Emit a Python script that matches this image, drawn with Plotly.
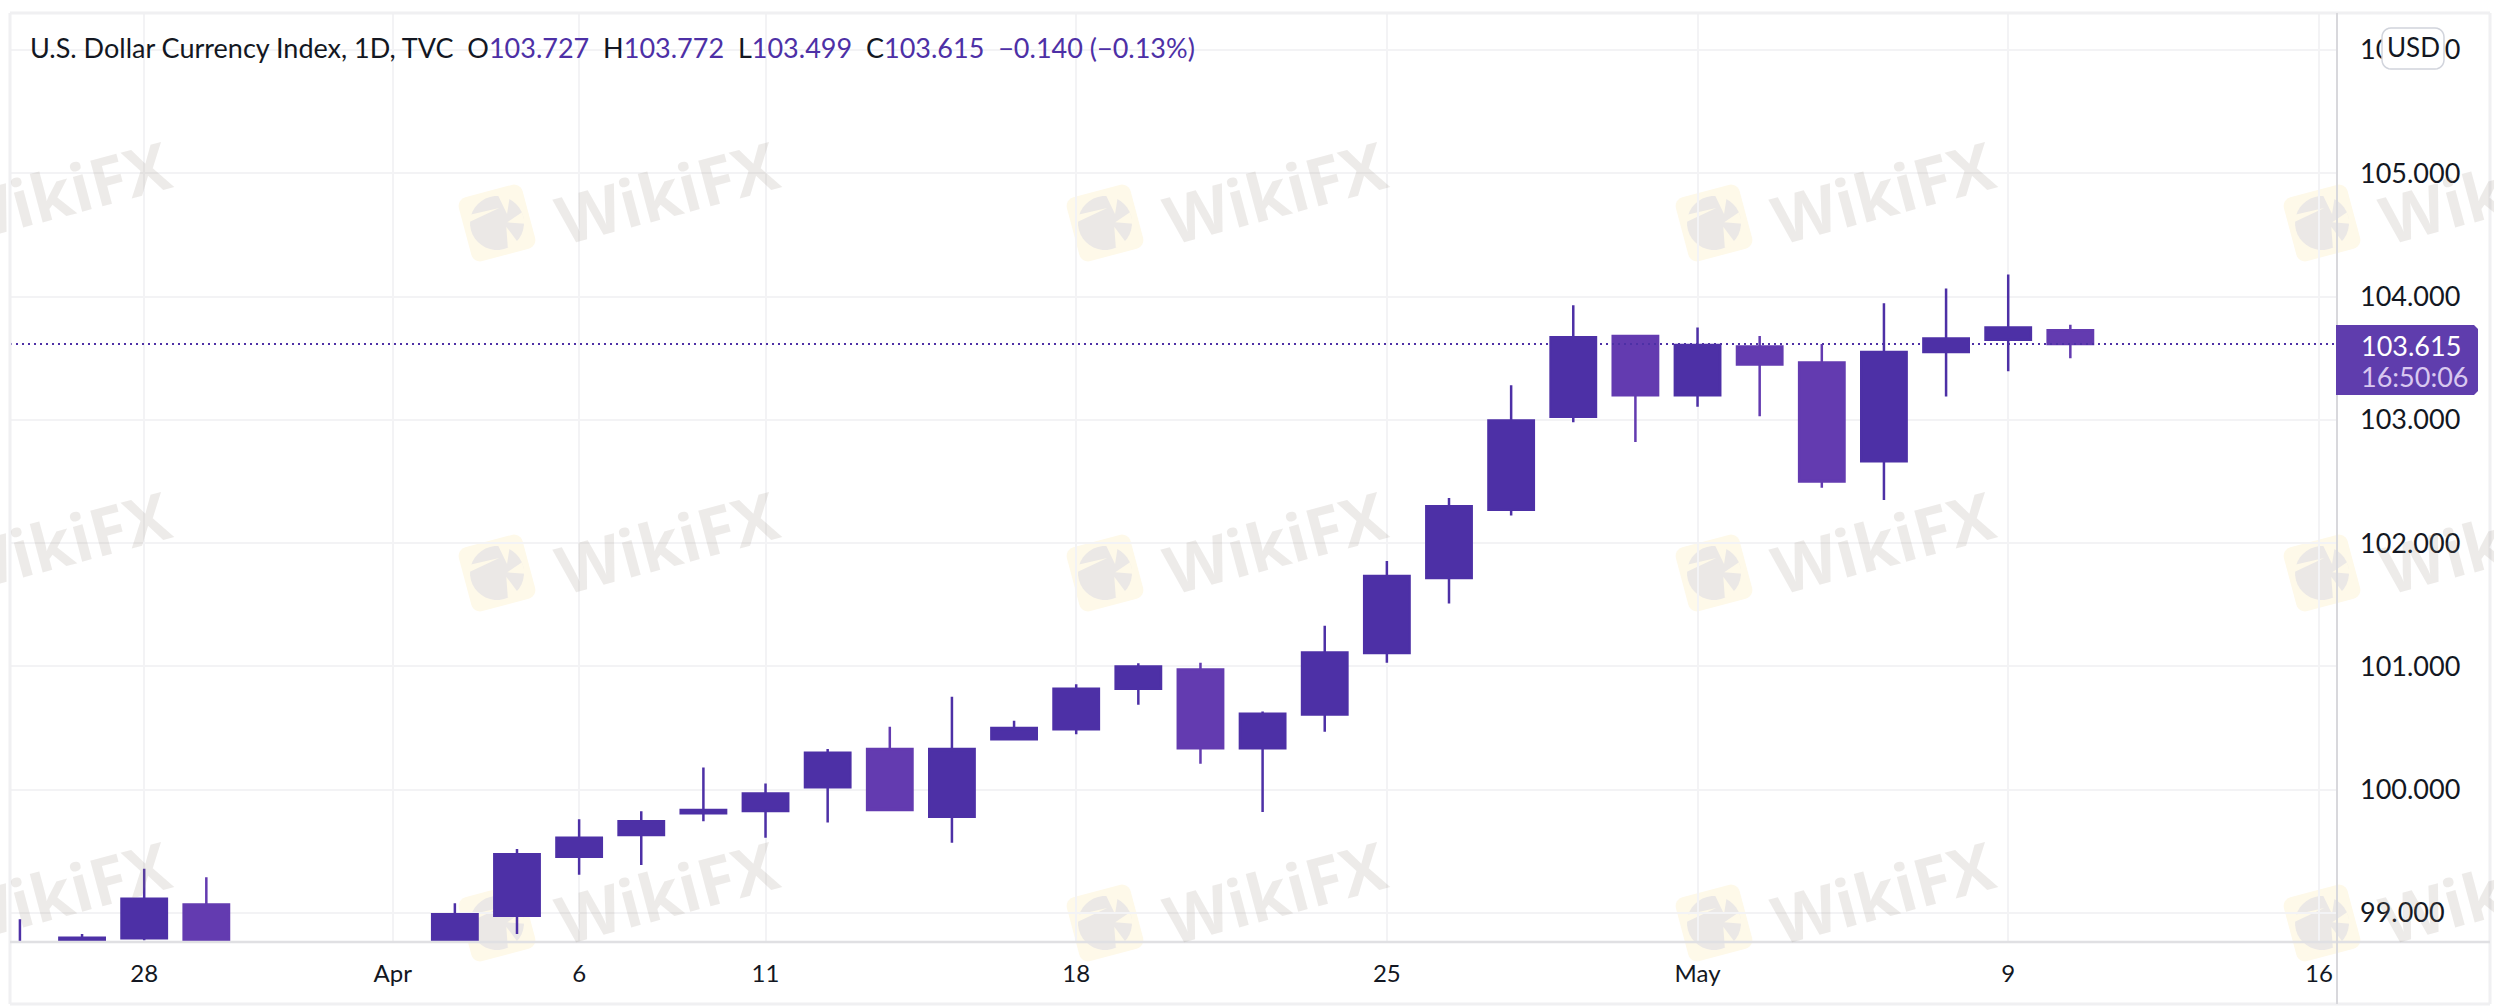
import math
import plotly.graph_objects as go

W, H = 2494, 1006
LEFT, RIGHT, TOP, BOTTOM = 10, 2337, 13, 942

dates = ['2022-03-24', '2022-03-25', '2022-03-28', '2022-03-29', '2022-04-04', '2022-04-05',
         '2022-04-06', '2022-04-07', '2022-04-08', '2022-04-11', '2022-04-12', '2022-04-13',
         '2022-04-14', '2022-04-15', '2022-04-18', '2022-04-19', '2022-04-20', '2022-04-21',
         '2022-04-22', '2022-04-25', '2022-04-26', '2022-04-27', '2022-04-28', '2022-04-29',
         '2022-05-02', '2022-05-03', '2022-05-04', '2022-05-05', '2022-05-06', '2022-05-09',
         '2022-05-10']
opens = [98.60, 98.70, 98.795, 99.07, 98.72, 98.978,
         99.457, 99.633, 99.81, 99.827, 100.02, 100.33,
         99.78, 100.41, 100.49, 100.82, 100.976, 100.336,
         100.61, 101.11, 101.717, 102.27, 103.025, 103.68,
         103.20, 103.596, 103.466, 102.665, 103.55, 103.65,
         103.727]
highs = [98.95, 98.83, 99.36, 99.29, 99.08, 99.52,
         99.76, 99.825, 100.18, 100.05, 100.33, 100.51,
         100.754, 100.56, 100.855, 101.025, 101.03, 100.635,
         101.33, 101.855, 102.366, 103.28, 103.93, 103.69,
         103.75, 103.68, 103.615, 103.945, 104.066, 104.18,
         103.772]
lows = [98.50, 98.60, 98.78, 98.60, 98.65, 98.83,
        99.31, 99.39, 99.744, 99.61, 99.735, 99.827,
        99.57, 100.40, 100.45, 100.69, 100.21, 99.82,
        100.47, 101.03, 101.51, 102.225, 102.98, 102.82,
        103.106, 103.03, 102.45, 102.35, 103.19, 103.395,
        103.499]
closes = [98.70, 98.80, 99.116, 98.68, 98.99, 99.476,
          99.61, 99.744, 99.835, 99.97, 100.30, 99.835,
          100.33, 100.50, 100.82, 101.00, 100.336, 100.616,
          101.114, 101.733, 102.30, 102.995, 103.67, 103.20,
          103.607, 103.45, 102.50, 103.55, 103.66, 103.75,
          103.615]

last_price = 103.615
price_ticks = [99, 100, 101, 102, 103, 104, 105, 106]
date_ticks = ['2022-03-28', '2022-04-01', '2022-04-06', '2022-04-11', '2022-04-18',
              '2022-04-25', '2022-05-02', '2022-05-09', '2022-05-16']
date_labels = ['28', 'Apr', '6', '11', '18', '25', 'May', '9', '16']

UP = '#4d30a6'
DOWN = '#633bb0'
GRID = '#f3f3f5'
TEXT = '#131722'
FONT = 'Lato'


# pixel helpers, only for chrome and watermark placement
def px(x):
  return (x - LEFT) / (RIGHT - LEFT)


def py(y):
  return (BOTTOM - y) / (BOTTOM - TOP)


def line(x0, y0, x1, y1, color, width):
  return dict(type='line', xref='paper', yref='paper', x0=px(x0), y0=py(y0), x1=px(x1), y1=py(y1),
              line=dict(color=color, width=width), layer='above')


def poly_path(points):
  return 'M ' + ' L '.join(f'{px(a):.5f},{py(b):.5f}' for a, b in points) + ' Z'


def rotate(a, b, cx, cy, angle):
  c, s = math.cos(math.radians(angle)), math.sin(math.radians(angle))
  return (cx + a * c - b * s, cy + a * s + b * c)


def rounded_box(cx, cy, width, height, radius, angle=0):
  hw, hh = width / 2 - radius, height / 2 - radius
  pts = []
  for hx, hy, start in [(hw, -hh, -90), (hw, hh, 0), (-hw, hh, 90), (-hw, -hh, 180)]:
    for k in range(7):
      t = math.radians(start + k * 15)
      pts.append(rotate(hx + radius * math.cos(t), hy + radius * math.sin(t), cx, cy, angle))
  return pts


def logo_shapes(cx, cy):
  out = []
  out.append(dict(type='path', xref='paper', yref='paper', layer='below',
                  path=poly_path(rounded_box(cx, cy, 66, 66, 9, -15)),
                  fillcolor='#fef9e9', line=dict(width=0)))
  circle = [rotate(27 * math.cos(math.radians(k * 10)), 27 * math.sin(math.radians(k * 10)), cx, cy, -15)
            for k in range(36)]
  out.append(dict(type='path', xref='paper', yref='paper', layer='below', path=poly_path(circle),
                  fillcolor='#ebe8e6', line=dict(width=0)))
  # slits that break the disc into the bird shape
  for a0, b0, a1, b1, a2, b2 in [(-27, -8, 6, -14, -24, -15), (8, -27, 12, -6, 20, -24),
                                 (27, -4, 10, 2, 27, 8), (16, 26, 8, 6, 4, 27)]:
    slit = [rotate(a, b, cx, cy, -15) for a, b in [(a0, b0), (a1, b1), (a2, b2)]]
    out.append(dict(type='path', xref='paper', yref='paper', layer='below', path=poly_path(slit),
                    fillcolor='#fef9e9', line=dict(width=0)))
  return out


data = [
  go.Candlestick(
    x=dates, open=opens, high=highs, low=lows, close=closes,
    increasing=dict(line=dict(color=UP, width=2.5), fillcolor=UP),
    decreasing=dict(line=dict(color=DOWN, width=2.5), fillcolor=DOWN),
    whiskerwidth=0, showlegend=False, hoverinfo='skip'),
]

shapes = [
  dict(type='line', xref='paper', yref='y', x0=0, x1=1, y0=last_price, y1=last_price,
       line=dict(color=UP, width=2, dash='2px,4px'), layer='above'),
  line(LEFT, TOP, 2490, TOP, '#f0f0f2', 3),
  line(LEFT, TOP, LEFT, 1004, '#f0f0f2', 3),
  line(2490, TOP, 2490, 1004, '#f0f0f2', 3),
  line(LEFT, 1004, 2490, 1004, '#f0f0f2', 3),
  line(LEFT, BOTTOM, 2490, BOTTOM, '#e0e0e3', 2.5),
  line(RIGHT, TOP, RIGHT, 1004, '#d8d8dc', 2),
  dict(type='path', xref='paper', yref='paper', layer='above', fillcolor='#5f3dad', line=dict(width=0),
       path=poly_path([(2336, 325), (2474, 325), (2478, 329), (2478, 391), (2474, 395), (2336, 395)])),
  dict(type='path', xref='paper', yref='paper', layer='above', fillcolor='white',
       path=poly_path(rounded_box(2413, 48.5, 62, 41, 9)), line=dict(color='#d1d4dc', width=1.5)),
]

for ly in (223, 573, 923):
  for lx in (497, 1105, 1714, 2322):
    shapes.extend(logo_shapes(lx, ly))

head_black = f'<span style="color:{TEXT}">%s</span>'
head_val = f'<span style="color:{UP}">%s</span>'
header = (head_black % 'U.S. Dollar Currency Index, 1D, TVC  O' + head_val % '103.727'
          + head_black % '  H' + head_val % '103.772'
          + head_black % '  L' + head_val % '103.499'
          + head_black % '  C' + head_val % '103.615'
          + head_val % '  −0.140 (−0.13%)')

annotations = []
for row in (191, 541, 891):
  for col in (59, 667, 1275, 1883, 2491):
    annotations.append(dict(xref='paper', yref='paper', x=px(col), y=py(row), text='WikiFX', showarrow=False,
                            xanchor='center', yanchor='middle', textangle=-15,
                            font=dict(family='Open Sans', size=66, weight=700,
                                      color='rgba(150,135,125,0.17)')))
annotations += [
  dict(xref='paper', yref='paper', x=px(28), y=py(48), xanchor='left', yanchor='middle', text=header,
       showarrow=False, font=dict(family=FONT, size=27, color=TEXT)),
  dict(xref='paper', yref='paper', x=px(2413), y=py(47), xanchor='center', yanchor='middle', text='USD',
       showarrow=False, font=dict(family=FONT, size=26, color=TEXT)),
  dict(xref='paper', yref='paper', x=px(2359), y=py(345), xanchor='left', yanchor='middle',
       text=f'{last_price:.3f}', showarrow=False, font=dict(family=FONT, size=27, color='white')),
  dict(xref='paper', yref='paper', x=px(2359), y=py(377), xanchor='left', yanchor='middle', text='16:50:06',
       showarrow=False, font=dict(family=FONT, size=27, color='#d9c8f0')),
]

layout = go.Layout(
  width=W, height=H,
  margin=dict(l=LEFT, r=W - RIGHT, t=TOP, b=H - BOTTOM, pad=0),
  paper_bgcolor='white', plot_bgcolor='white',
  boxgap=0.27, boxgroupgap=0,
  xaxis=dict(
    type='date', range=['2022-03-23 20:10', '2022-05-16 07:00'],
    rangebreaks=[dict(bounds=['sat', 'mon'])],
    rangeslider=dict(visible=False),
    tickmode='array', tickvals=date_ticks, ticktext=date_labels,
    tickfont=dict(family=FONT, size=24, color=TEXT), ticks='', ticklabelstandoff=15,
    showgrid=True, gridcolor=GRID, gridwidth=2, showline=False, zeroline=False),
  yaxis=dict(
    side='right', range=[98.765, 106.30],
    tickmode='array', tickvals=price_ticks, tickformat='.3f',
    tickfont=dict(family=FONT, size=27, color=TEXT), ticks='', ticklabelstandoff=22,
    showgrid=True, gridcolor=GRID, gridwidth=2, showline=False, zeroline=False),
  shapes=shapes,
  annotations=annotations,
)

fig = go.Figure(data=data, layout=layout)
fig.write_html("out.html", config=dict(displayModeBar=False), post_script="document.body.style.margin='0';")
